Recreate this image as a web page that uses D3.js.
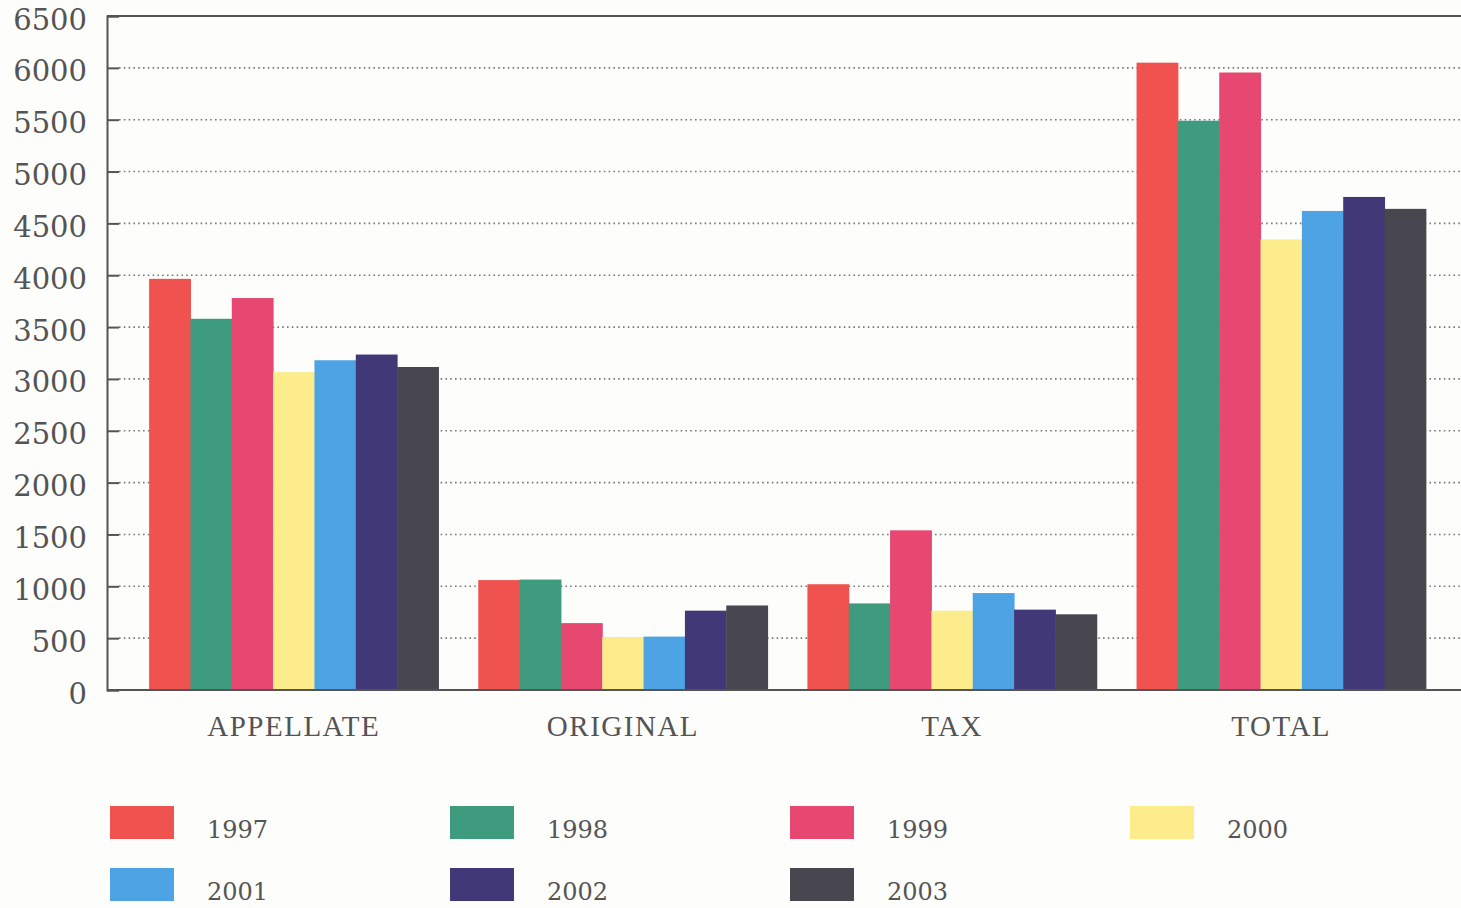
<!DOCTYPE html>
<html>
<head>
<meta charset="utf-8">
<script src="https://cdn.jsdelivr.net/npm/d3@7"></script>
<style>
  body { margin: 0; background: #fdfdfb; }
  svg { display: block; }
</style>
</head>
<body>
<svg id="chart" width="1461" height="908"></svg>
<script>
// chart values
var categories = ["APPELLATE", "ORIGINAL", "TAX", "TOTAL"];
var years = ["1997", "1998", "1999", "2000", "2001", "2002", "2003"];
var appellate = [3965, 3580, 3780, 3065, 3180, 3235, 3115];
var original  = [1060, 1065, 645, 510, 515, 765, 815];
var tax       = [1020, 835, 1540, 765, 935, 775, 730];
var total     = [6050, 5490, 5955, 4345, 4620, 4755, 4640];
var yTicks = [0, 500, 1000, 1500, 2000, 2500, 3000, 3500, 4000, 4500, 5000, 5500, 6000, 6500];
var colors = ["#f0524f", "#3f9b7d", "#e64871", "#fcec8c", "#4da3e4", "#413878", "#48464f"];

var seriesByCat = [appellate, original, tax, total];

var svg = d3.select("#chart");
var plotLeft = 107, plotTop = 16, plotBottom = 690, plotRight = 1468;
var ink = "#545454";

var x = d3.scaleBand()
  .domain(categories)
  .range([plotLeft, plotRight])
  .paddingInner(0.121)
  .paddingOuter(0.128);

var x1 = d3.scaleBand()
  .domain(years)
  .range([0, x.bandwidth()]);

var y = d3.scaleLinear()
  .domain([0, 6500])
  .range([plotBottom, plotTop]);

// dotted grid lines behind the bars
svg.append("g")
  .selectAll("line")
  .data(yTicks.filter(function(d) { return d > 0 && d < 6500; }))
  .join("line")
  .attr("x1", plotLeft + 12)
  .attr("x2", 1461)
  .attr("y1", function(d) { return y(d); })
  .attr("y2", function(d) { return y(d); })
  .attr("stroke", "#7a7a7a")
  .attr("stroke-width", 1.6)
  .attr("stroke-dasharray", "1.6,3.2");

// bars
var groups = svg.append("g")
  .selectAll("g")
  .data(categories)
  .join("g")
  .attr("transform", function(d) { return "translate(" + x(d) + ",0)"; });

groups.selectAll("rect")
  .data(function(d, i) {
    return years.map(function(yr, j) { return { year: yr, value: seriesByCat[i][j], k: j }; });
  })
  .join("rect")
  .attr("x", function(d) { return x1(d.year); })
  .attr("width", x1.bandwidth() + 0.5)
  .attr("y", function(d) { return y(d.value); })
  .attr("height", function(d) { return y(0) - y(d.value); })
  .attr("fill", function(d) { return colors[d.k]; });

// frame: left axis, top and base line
var yAxis = d3.axisLeft(y)
  .tickValues(yTicks)
  .tickSize(-12)
  .tickPadding(20)
  .tickFormat(function(d) { return d; });

var ax = svg.append("g")
  .attr("transform", "translate(" + plotLeft + ",0)")
  .call(yAxis);
ax.select(".domain").attr("stroke", ink).attr("stroke-width", 2);
ax.selectAll(".tick line").attr("stroke", ink).attr("stroke-width", 2);
ax.selectAll(".tick text")
  .attr("fill", ink)
  .attr("font-family", "DejaVu Serif")
  .attr("font-size", 29)
  .attr("dy", "0.45em");

svg.append("line")
  .attr("x1", plotLeft).attr("x2", 1461)
  .attr("y1", plotTop).attr("y2", plotTop)
  .attr("stroke", ink).attr("stroke-width", 2);
svg.append("line")
  .attr("x1", plotLeft).attr("x2", 1461)
  .attr("y1", plotBottom).attr("y2", plotBottom)
  .attr("stroke", ink).attr("stroke-width", 2);

// category labels
svg.append("g")
  .selectAll("text")
  .data(categories)
  .join("text")
  .attr("x", function(d) { return x(d) + x.bandwidth() / 2; })
  .attr("y", 736)
  .attr("text-anchor", "middle")
  .attr("fill", ink)
  .attr("font-family", "Liberation Serif")
  .attr("font-size", 29)
  .attr("letter-spacing", 1.5)
  .text(function(d) { return d; });

// legend, 4 columns
var legend = svg.append("g")
  .selectAll("g")
  .data(years)
  .join("g")
  .attr("transform", function(d, i) {
    return "translate(" + (110 + (i % 4) * 340) + "," + (806 + Math.floor(i / 4) * 62) + ")";
  });

legend.append("rect")
  .attr("width", 64)
  .attr("height", 33)
  .attr("fill", function(d, i) { return colors[i]; });

legend.append("text")
  .attr("x", 97)
  .attr("y", 32)
  .attr("fill", ink)
  .attr("font-family", "DejaVu Serif")
  .attr("font-size", 24)
  .text(function(d) { return d; });
</script>
</body>
</html>
